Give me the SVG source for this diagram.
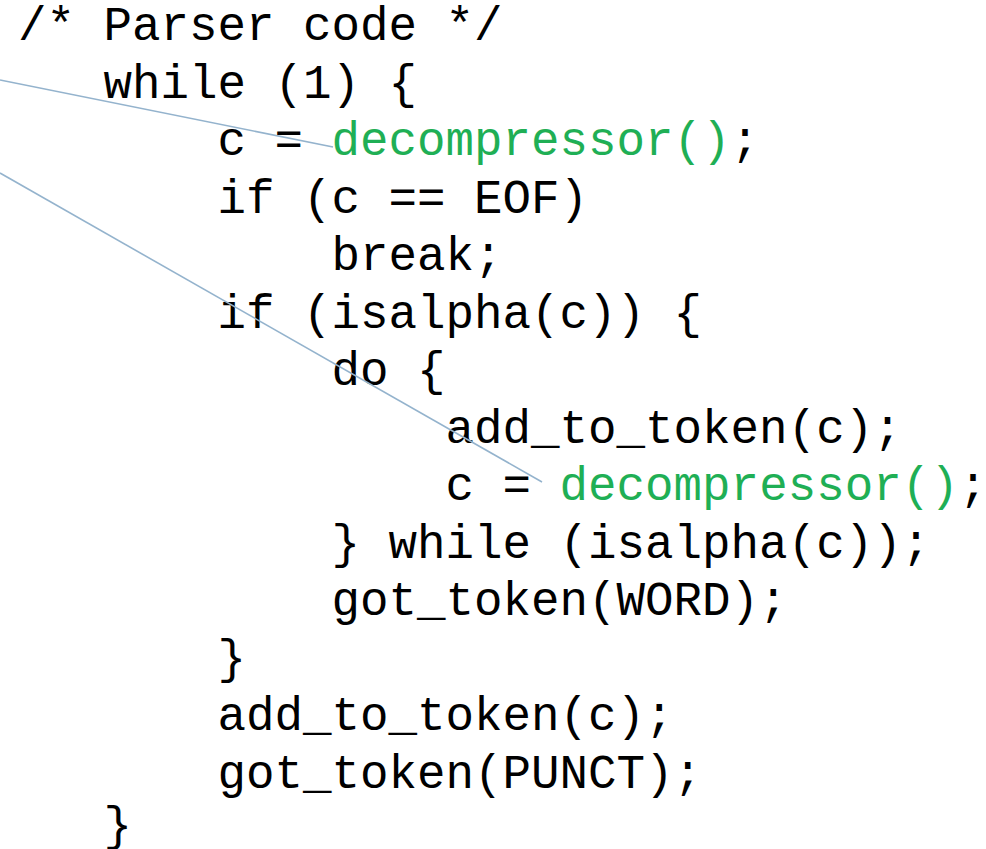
<svg xmlns="http://www.w3.org/2000/svg" width="986" height="849" viewBox="0 0 986 849">
<style>
text{font-family:"Liberation Mono","Courier New",monospace;font-size:47.5px;fill:#000;white-space:pre}
.g{fill:#1faf55}
.c{stroke:#94b3cd;stroke-width:1.6;fill:none}
</style>
<rect width="986" height="849" fill="#fff"/>
<g id="code">
<text x="18" y="40">/* Parser code */</text>
<text x="18" y="97.5">   while (1) {</text>
<text x="18" y="155">       c = <tspan class="g">decompressor()</tspan>;</text>
<text x="18" y="212.5">       if (c == EOF)</text>
<text x="18" y="270">           break;</text>
<text x="18" y="327.5">       if (isalpha(c)) {</text>
<text x="18" y="385">           do {</text>
<text x="18" y="442.5">               add_to_token(c);</text>
<text x="18" y="500">               c = <tspan class="g">decompressor()</tspan>;</text>
<text x="18" y="557.5">           } while (isalpha(c));</text>
<text x="18" y="615">           got_token(WORD);</text>
<text x="18" y="672.5">       }</text>
<text x="18" y="730">       add_to_token(c);</text>
<text x="18" y="787.5">       got_token(PUNCT);</text>
<text x="18" y="840">   }</text>
</g>
<g id="connectors">
<line class="c" x1="0" y1="80" x2="333" y2="147"/>
<line class="c" x1="0" y1="173" x2="542" y2="482"/>
</g>
</svg>
